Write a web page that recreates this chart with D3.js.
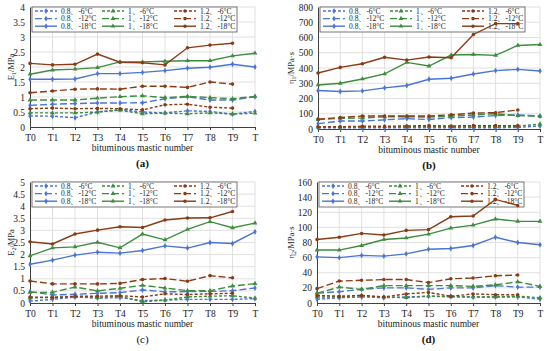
<!DOCTYPE html>
<html><head><meta charset="utf-8">
<script src="https://cdn.jsdelivr.net/npm/d3@7"></script>
<style>body{margin:0;background:#fff}svg{display:block}</style>
</head><body>
<svg id="c" width="550" height="351"></svg>
<script>
const categories = ["T0","T1","T2","T3","T4","T5","T6","T7","T8","T9","T"];
const seriesNames = ["0.8、-6°C","0.8、-12°C","0.8、-18°C","1、-6°C","1、-12°C","1、-18°C","1.2、-6°C","1.2、-12°C","1.2、-18°C"];

// Panel (a) E1 / MPa
const a_08_6  = [0.37,0.36,0.31,0.50,0.58,0.50,0.47,0.54,0.52,0.43,0.52];
const a_08_12 = [0.72,0.76,0.78,0.80,0.80,0.81,0.94,1.01,0.90,0.90,1.01];
const a_08_18 = [1.59,1.59,1.60,1.78,1.78,1.82,1.88,1.96,1.99,2.09,2.00];
const a_1_6   = [0.47,0.47,0.47,0.50,0.56,0.44,0.46,0.44,0.47,0.43,0.46];
const a_1_12  = [0.90,0.90,0.90,0.96,1.01,1.04,0.98,1.02,0.98,0.94,1.02];
const a_1_18  = [1.76,1.90,1.93,1.98,2.17,2.17,2.19,2.21,2.21,2.37,2.46];
const a_12_6  = [0.61,0.63,0.61,0.62,0.61,0.57,0.74,0.76,0.66,0.63];
const a_12_12 = [1.14,1.20,1.26,1.27,1.26,1.36,1.36,1.32,1.50,1.43];
const a_12_18 = [2.12,2.07,2.09,2.43,2.16,2.14,2.07,2.64,2.73,2.79];

// Panel (b) eta1 / MPa·s
const b_08_6  = [8,8,8,8,8,8,8,8,8,10,20];
const b_08_12 = [35,52,52,60,68,62,75,78,88,92,85];
const b_08_18 = [252,246,250,270,285,326,333,361,383,391,380];
const b_1_6   = [12,12,14,15,14,18,15,15,16,18,32];
const b_1_12  = [62,70,72,80,80,78,85,92,100,88,83];
const b_1_18  = [289,300,328,361,437,413,485,489,483,548,554];
const b_12_6  = [15,15,18,18,20,22,20,22,22,22];
const b_12_12 = [65,75,85,85,85,85,93,105,107,125];
const b_12_18 = [367,404,428,470,452,472,467,620,691,691];

// Panel (c) E2 / MPa
const c_08_6  = [0.08,0.15,0.25,0.20,0.22,0.10,0.12,0.15,0.15,0.15,0.18];
const c_08_12 = [0.47,0.33,0.36,0.40,0.43,0.54,0.46,0.47,0.48,0.51,0.62];
const c_08_18 = [1.60,1.77,1.98,2.10,2.06,2.17,2.36,2.27,2.50,2.46,2.94];
const c_1_6   = [0.20,0.25,0.25,0.22,0.28,0.05,0.12,0.25,0.28,0.30,0.20];
const c_1_12  = [0.44,0.44,0.66,0.50,0.61,0.73,0.62,0.51,0.51,0.70,0.80];
const c_1_18  = [1.95,2.28,2.32,2.51,2.28,2.85,2.61,3.04,3.36,3.11,3.30];
const c_12_6  = [0.25,0.22,0.28,0.28,0.30,0.25,0.38,0.35,0.38,0.40];
const c_12_12 = [0.91,0.79,0.79,0.79,0.81,0.97,1.01,0.90,1.13,1.04];
const c_12_18 = [2.53,2.44,2.85,3.01,3.15,3.12,3.43,3.51,3.52,3.78];

// Panel (d) eta2 / MPa·s
const d_08_6  = [5,7,8,7,8,9,9,8,8,8,5];
const d_08_12 = [13,15,18,20,20,18,20,20,23,21,21];
const d_08_18 = [61,60,63,62,65,71,72,76,87,80,77];
const d_1_6   = [8,8,10,8,7,9,8,8,8,9,7];
const d_1_12  = [13,21,18,23,23,23,23,22,24,28,22];
const d_1_18  = [70,70,76,84,86,91,99,103,111,108,108];
const d_12_6  = [10,9,10,8,12,14,9,12,11,11];
const d_12_12 = [19,29,30,31,31,27,32,33,36,37];
const d_12_18 = [84,87,92,90,96,97,114,115,137,129];

const yTicksA = d3.range(0,4.01,0.5), yTicksB = d3.range(0,801,100),
      yTicksC = d3.range(0,5.01,0.5), yTicksD = d3.range(0,161,20);

const colors = {"0.8":"#4a74d6","1":"#3e8c3e","1.2":"#8a3a14"};
const dashes = {"-6":"3,2","-12":"7,3","-18":null};
const markers = {"0.8":d3.symbolDiamond,"1":d3.symbolTriangle,"1.2":d3.symbolCircle};
function style(name){
  const [r,t] = name.replace("°C","").split("、");
  return {color:colors[r], dash:dashes[t], sym:markers[r]};
}

const svg = d3.select("#c");
const FONT = "'Liberation Serif','Times New Roman',serif";

function panel(o){
  const g = svg.append("g");
  const x = d3.scalePoint().domain(categories).range([o.x0,o.x1]);
  const y = d3.scaleLinear().domain([0,o.max]).range([o.y1,o.y0]);
  // grid
  g.selectAll(".hg").data(o.ticks.slice(1)).join("line")
    .attr("x1",o.x0).attr("x2",o.x1).attr("y1",d=>y(d)).attr("y2",d=>y(d))
    .attr("stroke","#d9d9d9").attr("stroke-width",0.8);
  g.selectAll(".vg").data(categories.slice(1)).join("line")
    .attr("x1",d=>x(d)).attr("x2",d=>x(d)).attr("y1",o.y0).attr("y2",o.y1)
    .attr("stroke","#d9d9d9").attr("stroke-width",0.8);
  // axes
  const ya = g.append("g").attr("transform",`translate(${o.x0},0)`)
    .call(d3.axisLeft(y).tickValues(o.ticks).tickSize(0).tickPadding(5).tickFormat(d3.format("~g")));
  ya.select(".domain").attr("stroke","#404040");
  ya.selectAll("text").attr("font-family",FONT).attr("font-size",9.5).attr("fill","#222");
  const xa = g.append("g").attr("transform",`translate(0,${o.y1})`)
    .call(d3.axisBottom(x).tickSize(3).tickPadding(4));
  xa.select(".domain").attr("stroke","#404040");
  xa.selectAll("line").attr("stroke","#404040");
  xa.selectAll("text").attr("font-family",FONT).attr("font-size",9.5).attr("fill","#222");
  // legend (drawn beneath the data lines)
  const lg = g.append("g").attr("transform",`translate(${o.x0+2},${o.y0})`);
  lg.append("rect").attr("x",0).attr("y",0).attr("width",205).attr("height",25)
    .attr("fill","#fff").attr("stroke","#555").attr("stroke-width",0.8);
  const colX = [3,70,142];
  seriesNames.forEach((n,i)=>{
    const s = style(n), cx = colX[Math.floor(i/3)], cy = 4 + (i%3)*7.6;
    lg.append("line").attr("x1",cx).attr("x2",cx+22).attr("y1",cy).attr("y2",cy)
      .attr("stroke",s.color).attr("stroke-width",1.4).attr("stroke-dasharray",s.dash);
    lg.append("path").attr("transform",`translate(${cx+11},${cy})`)
      .attr("d",d3.symbol().type(s.sym).size(10)).attr("fill",s.color);
    lg.append("text").attr("x",cx+26).attr("y",cy+2.8).text(n)
      .attr("font-family",FONT).attr("font-size",7.5).attr("fill","#222");
  });
  // series
  o.series.forEach((vals,i)=>{
    const s = style(seriesNames[i]);
    const pts = vals.map((v,j)=>[x(categories[j]),y(v)]);
    g.append("path").attr("d",d3.line()(pts)).attr("fill","none")
      .attr("stroke",s.color).attr("stroke-width",1.4)
      .attr("stroke-dasharray",s.dash);
    g.selectAll(null).data(pts).join("path")
      .attr("transform",d=>`translate(${d[0]},${d[1]})`)
      .attr("d",d3.symbol().type(s.sym).size(10)).attr("fill",s.color);
  });
  // titles
  const mx = (o.x0+o.x1)/2;
  g.append("text").attr("x",mx).attr("y",o.y1+24).attr("text-anchor","middle")
    .attr("font-family",FONT).attr("font-size",9.5).attr("fill","#222").text("bituminous mastic number");
  g.append("text").attr("x",mx).attr("y",o.y1+40).attr("text-anchor","middle")
    .attr("font-family",FONT).attr("font-size",11).attr("font-weight",o.bold?"bold":"normal")
    .attr("fill","#111").text(o.tag);
  const yl = g.append("text").attr("transform",`translate(${o.ylx},${(o.y0+o.y1)/2}) rotate(-90)`)
    .attr("text-anchor","middle").attr("font-family",FONT).attr("font-size",8.5).attr("fill","#222");
  yl.append("tspan").text(o.ylab[0]);
  yl.append("tspan").attr("font-size",6).attr("dy",2).text(o.ylab[1]);
  yl.append("tspan").attr("dy",-2).text(o.ylab[2]);
}

panel({x0:30,x1:255,y0:7,y1:127,max:4,ticks:yTicksA,tag:"(a)",bold:true,ylx:14,ylab:["E","1","/MPa"],
  series:[a_08_6,a_08_12,a_08_18,a_1_6,a_1_12,a_1_18,a_12_6,a_12_12,a_12_18]});
panel({x0:318,x1:540,y0:7,y1:129,max:800,ticks:yTicksB,tag:"(b)",bold:true,ylx:294,ylab:["η","1","/MPa·s"],
  series:[b_08_6,b_08_12,b_08_18,b_1_6,b_1_12,b_1_18,b_12_6,b_12_12,b_12_18]});
panel({x0:30,x1:255,y0:182,y1:303,max:5,ticks:yTicksC,tag:"(c)",bold:false,ylx:14,ylab:["E","2","/MPa"],
  series:[c_08_6,c_08_12,c_08_18,c_1_6,c_1_12,c_1_18,c_12_6,c_12_12,c_12_18]});
panel({x0:317,x1:540,y0:182,y1:303,max:160,ticks:yTicksD,tag:"(d)",bold:true,ylx:294,ylab:["η","2","/MPa·s"],
  series:[d_08_6,d_08_12,d_08_18,d_1_6,d_1_12,d_1_18,d_12_6,d_12_12,d_12_18]});
</script>
</body></html>
